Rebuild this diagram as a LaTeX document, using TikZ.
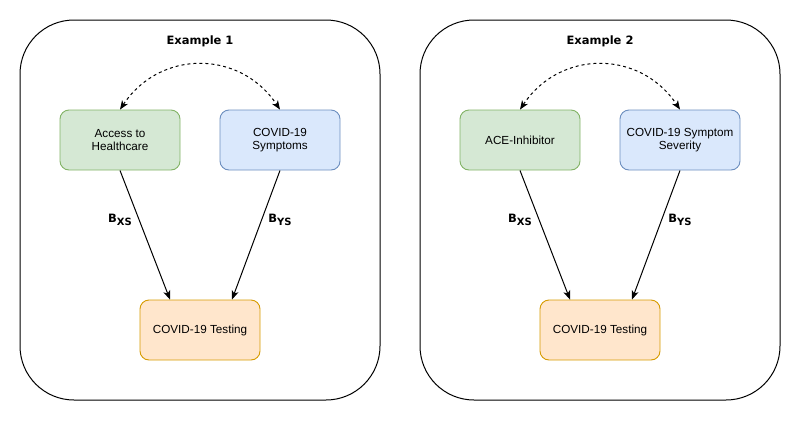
\documentclass[tikz,border=0pt]{standalone}
\usepackage{fontspec}
\setmainfont{Liberation Sans}
\newfontfamily\boldlabelfont{DejaVu Sans}
\usetikzlibrary{arrows.meta}
\definecolor{greenfill}{HTML}{D5E8D4}
\definecolor{greenline}{HTML}{82B366}
\definecolor{bluefill}{HTML}{DAE8FC}
\definecolor{blueline}{HTML}{6C8EBF}
\definecolor{orangefill}{HTML}{FFE6CC}
\definecolor{orangeline}{HTML}{D79B00}
\newcommand{\bsub}[1]{{\boldlabelfont\bfseries\fontsize{11.5}{13}\selectfont B\raisebox{-3pt}{\fontsize{10}{12}\selectfont #1}}}

\begin{document}
\begin{tikzpicture}[x=1pt,y=-1pt]
    \tikzstyle{every node}+=[inner sep=0pt, font=\fontsize{11.7}{13.5}\selectfont]
    \tikzstyle{box}=[draw, line width=0.9pt, rounded corners=9pt, minimum width=120pt, minimum height=60pt, align=center]
    \tikzstyle{greenbox}=[box, fill=greenfill, draw=greenline]
    \tikzstyle{bluebox}=[box, fill=bluefill, draw=blueline]
    \tikzstyle{orangebox}=[box, fill=orangefill, draw=orangeline]
    \tikzstyle{edge}=[line width=1pt, -{Stealth[length=9pt,width=7pt,inset=2.5pt]}]
    \tikzstyle{assoc}=[line width=1pt, dash pattern=on 3pt off 3pt, {Stealth[length=9pt,width=7pt,inset=2.5pt]}-{Stealth[length=9pt,width=7pt,inset=2.5pt]}]
    \tikzstyle{panel}=[draw, line width=1pt, rounded corners=54pt]
    \tikzstyle{title}=[font=\boldlabelfont\bfseries\fontsize{11.5}{13}\selectfont]
    \useasboundingbox (0,0) rectangle (801,421);
    \draw [panel] (20,20) rectangle (380,400);
    \draw [panel] (420,20) rectangle (780,400);
    \node [title] (title1) at (200,41) {Example 1};
    \node [title] (title2) at (600,41) {Example 2};
    \node [greenbox] (access) at (120,140) {Access to\\Healthcare};
    \node [bluebox] (symptoms) at (280,140) {COVID-19\\Symptoms};
    \node [orangebox] (testing1) at (200,330) {COVID-19 Testing};
    \node [greenbox] (ace) at (520,140) {ACE-Inhibitor};
    \node [bluebox] (severity) at (680,140) {COVID-19 Symptom\\Severity};
    \node [orangebox] (testing2) at (600,330) {COVID-19 Testing};
    \draw [edge] (access.south) -- ([xshift=-30pt]testing1.north);
    \draw [edge] (symptoms.south) -- ([xshift=32pt]testing1.north);
    \draw [edge] (ace.south) -- ([xshift=-30pt]testing2.north);
    \draw [edge] (severity.south) -- ([xshift=32pt]testing2.north);
    \draw [assoc] (access.north) .. controls +(40,-60) and +(-40,-60) .. (symptoms.north);
    \draw [assoc] (ace.north) .. controls +(40,-60) and +(-40,-60) .. (severity.north);
    \node (bxs1) at (120,220) {\bsub{XS}};
    \node (bys1) at (280,220) {\bsub{YS}};
    \node (bxs2) at (520,220) {\bsub{XS}};
    \node (bys2) at (680,220) {\bsub{YS}};
\end{tikzpicture}
\end{document}
